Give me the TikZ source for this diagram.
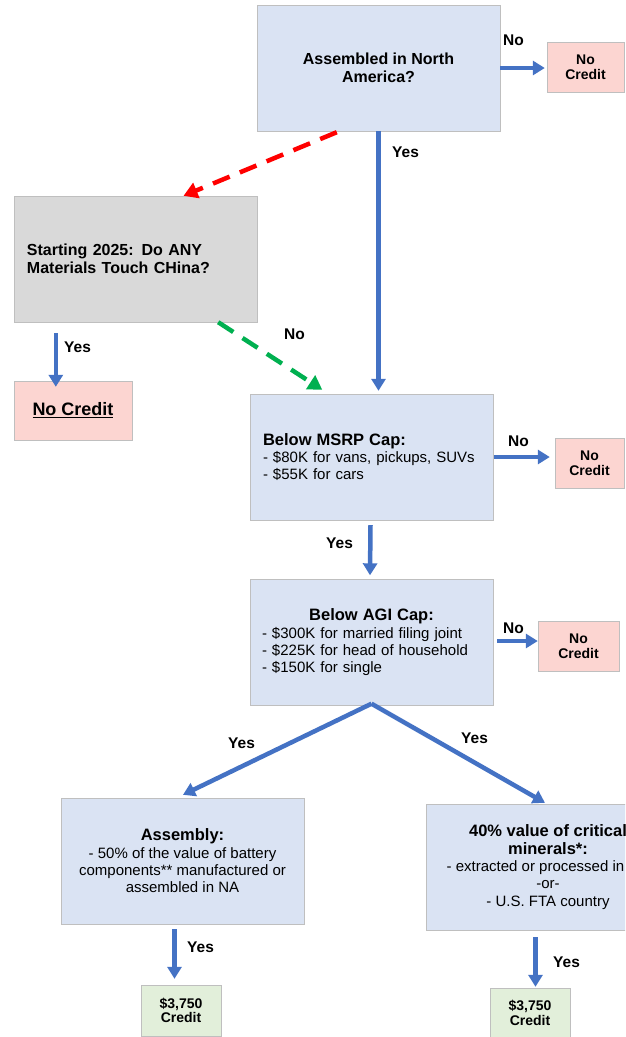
\documentclass[tikz,border=0pt]{standalone}
\usepackage{fontspec}
\setmainfont{Liberation Sans}
\usetikzlibrary{positioning}
\usetikzlibrary{arrows.meta}
\usetikzlibrary{calc}
\definecolor{boxblue}{HTML}{DAE3F3}
\definecolor{boxgray}{HTML}{D9D9D9}
\definecolor{boxpink}{HTML}{FCD5D1}
\definecolor{boxgreen}{HTML}{E2EFDA}
\definecolor{edgegray}{HTML}{BFBFBF}
\definecolor{flowblue}{HTML}{4472C4}
\definecolor{flowred}{HTML}{FF0000}
\definecolor{flowgreen}{HTML}{00B050}
\tikzset {
  % question boxes
  question/.style = {draw=edgegray, fill=boxblue, minimum width=243pt, minimum height=126pt, inner sep=0pt},
  body/.style = {font=\fontsize{15}{17.3}\selectfont},
  % the china check
  china/.style = {draw=edgegray, fill=boxgray, minimum width=243pt, minimum height=126pt, inner sep=0pt,
    text width=217pt, align=left, font=\bfseries\fontsize{16}{18}\selectfont},
  % end boxes
  nocredit/.style = {draw=edgegray, fill=boxpink, inner sep=0pt, align=center, font=\bfseries\fontsize{14}{15}\selectfont},
  credit/.style = {draw=edgegray, fill=boxgreen, inner sep=0pt, minimum width=80pt, align=center, font=\bfseries\fontsize{14}{14.5}\selectfont},
  % connectors
  flow/.style = {flowblue, line width=4.5pt, -{Triangle[length=12pt,width=14pt]}},
  dashflow/.style = {line width=4.5pt, dash pattern=on 18pt off 11pt, -{Triangle[length=14pt,width=16pt]}},
  lbl/.style = {anchor=base west, inner sep=0pt, font=\bfseries\fontsize{15.5}{18}\selectfont},
}
\begin{document}
\begin{tikzpicture}[x=1pt, y=-1pt]
      \useasboundingbox (0,0) rectangle (625,1037);
      \clip (0,0) rectangle (625,1037);

      \node[question, align=center, font=\bfseries\fontsize{16}{18}\selectfont] (na) at (378.5,68) {Assembled in North\\America?};

      \node[nocredit, minimum width=77pt, minimum height=50pt] (nc1) at (585.5,67) {No\\Credit};

      \node[china] (china) at (135.5,259) {Starting 2025: Do ANY\\Materials Touch CHina?};

      \node[nocredit, minimum width=118pt, minimum height=59pt, font=\bfseries\fontsize{18}{20}\selectfont] (nc2) at (73,410.5) {\underline{No Credit}};

      \node[question, body, text width=218pt, align=left] (msrp) at (372,457)
        {{\bfseries\fontsize{16.5}{18}\selectfont Below MSRP Cap:}\\- \$80K for vans, pickups, SUVs\\- \$55K for cars};

      \node[nocredit, minimum width=69pt, minimum height=50pt] (nc3) at (589.5,463) {No\\Credit};

      \node[question, body, text width=219pt, align=left] (agi) at (371.5,642.5)
        {\makebox[219pt]{\bfseries\fontsize{16.5}{18}\selectfont Below AGI Cap:}\\- \$300K for married filing joint\\- \$225K for head of household\\- \$150K for single};

      \node[nocredit, minimum width=81pt, minimum height=50pt] (nc4) at (578.5,646) {No\\Credit};

      \node[question, body, align=center] (asm) at (182.5,861)
        {{\bfseries\fontsize{16.5}{18}\selectfont Assembly:}\\- 50\% of the value of battery\\components** manufactured or\\assembled in NA};

      \node[question, body, align=center] (mineral) at (548,867)
        {{\bfseries\fontsize{16.5}{18}\selectfont 40\% value of critical}\\{\bfseries\fontsize{16.5}{18}\selectfont minerals*:}\\- extracted or processed in\phantom{ NA}\\-or-\\- U.S. FTA country};

      \node[credit, minimum height=51pt] (cr1) at (181,1010.5) {\$3,750\\Credit};

      \node[credit, minimum height=50pt] (cr2) at (530,1013) {\$3,750\\Credit};

      % first check
      \draw[flow] (na.east) -- ($(nc1.west |- na.east)+(-2,0)$);
      \node[lbl] (no1) at (503,45) {No};
      \draw[flow] (na.south) -- ($(na.south |- msrp.north)+(0,-3)$);
      \node[lbl] (yes1) at (392,157) {Yes};

      % china branch
      \draw[dashflow, flowred] ($(na.south west)+(80,1)$) -- ($(china.north)+(48,0)$);
      \draw[flow] ($(china.south west)+(42,11)$) -- ($(nc2.north west)+(42,6)$);
      \node[lbl] (yes2) at (64,352) {Yes};
      \draw[dashflow, flowgreen] ($(china.south east)+(-39,0)$) -- ($(msrp.north west)+(72,-4)$);
      \node[lbl] (no2) at (284,339) {No};

      % msrp
      \draw[flow] (msrp.east) -- ($(nc3.west |- msrp.east)+(-5,0)$);
      \node[lbl] (no3) at (508,446) {No};
      \draw[flow] ($(msrp.south)+(-1.5,5)$) -- ($(agi.north)+(-1.5,-4)$);
      \node[lbl] (yes3) at (326,548) {Yes};

      % agi
      \draw[flow] ($(agi.east)+(4,-1.5)$) -- ($(nc4.west)+(0,-5)$);
      \node[lbl] (no4) at (503,633) {No};
      \draw[flow] ($(agi.south)+(0,-2)$) -- ($(asm.north)+(0.5,-3)$);
      \draw[flow] ($(agi.south)+(0,-2)$) -- ($(mineral.north)+(-3,-1)$);
      \node[lbl] (yes4) at (228,748) {Yes};
      \node[lbl] (yes5) at (461,743) {Yes};

      % last step
      \draw[flow] ($(asm.south)+(-8,5)$) -- ($(cr1.north)+(-6.5,-6)$);
      \node[lbl] (yes6) at (187,952) {Yes};
      \draw[flow] ($(mineral.south)+(-12.5,7)$) -- ($(cr2.north)+(5.5,-1)$);
      \node[lbl] (yes7) at (553,967) {Yes};
    \end{tikzpicture}
\end{document}
